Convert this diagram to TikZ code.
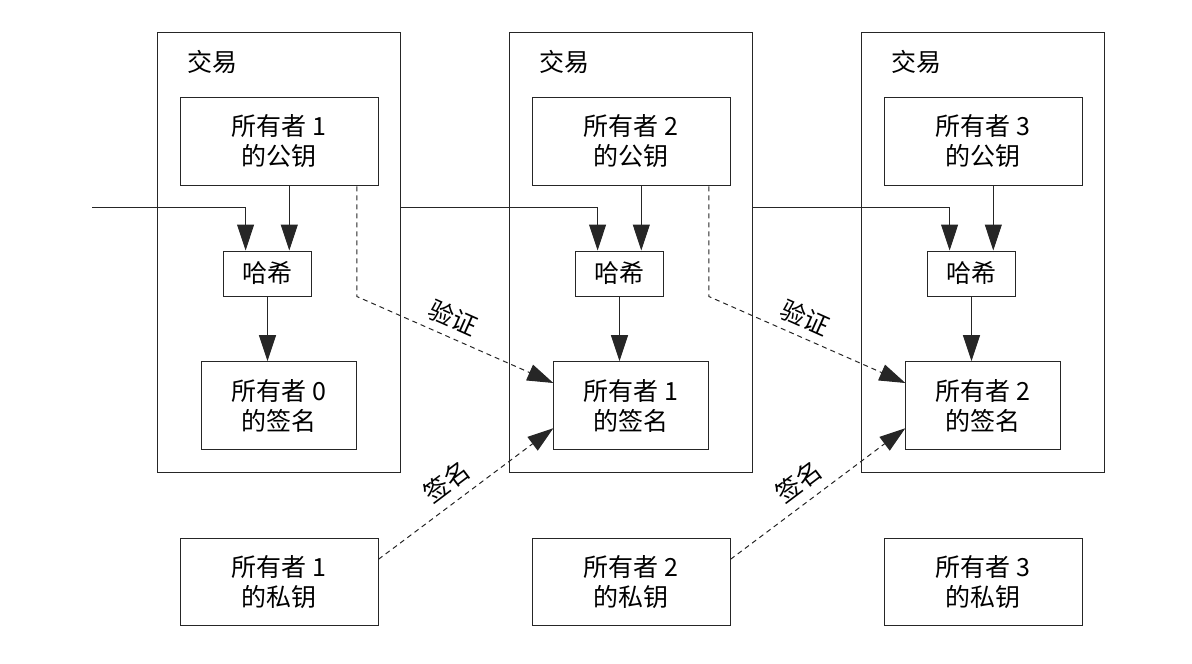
\documentclass[tikz,border=0pt]{standalone}
\usepackage{fontspec}
\setmainfont{Noto Sans CJK SC}
\usetikzlibrary{arrows.meta}
\begin{document}
\begin{tikzpicture}[x=1pt,y=-1pt,
  every node/.style={font=\fontsize{25}{30}\selectfont},
  frame/.style={draw=black!85, line width=1pt, inner sep=0pt},
  box/.style={draw=black!85, line width=1pt, align=center, inner sep=0pt},
  link/.style={draw=black!85, line width=1pt, -{Triangle[length=26pt,width=17pt]}},
  dlink/.style={link, dash pattern=on 5pt off 4pt},
  lbl/.style={inner sep=0pt}]
\useasboundingbox (0,0) rectangle (1192,664);
\foreach \n/\dx in {1/0,2/352,3/704}{
  \pgfmathtruncatemacro{\m}{\n-1}
  \node[frame, minimum width=242.5pt, minimum height=440pt] (tx\n) at (279+\dx,252) {};
  \node[lbl] (lt\n) at (212+\dx,62) {交易};
  \node[box, minimum width=198pt, minimum height=88.5pt] (pk\n) at (279+\dx,141.5) {所有者 \n\\的公钥};
  \node[box, minimum width=88.4pt, minimum height=45pt] (h\n) at (267.5+\dx,273.5) {哈希};
  \node[box, minimum width=154.3pt, minimum height=87.6pt] (sig\n) at (279+\dx,405.5) {所有者 \m\\的签名};
  \node[box, minimum width=198pt, minimum height=87.7pt] (sk\n) at (279+\dx,582) {所有者 \n\\的私钥};
  \coordinate (a\n) at ([xshift=10.3pt]pk\n.south);
  \coordinate (in\n) at ([xshift=-21.9pt]h\n.north);
  \coordinate (v\n) at ([xshift=-21.7pt]pk\n.south east);
  \draw[link] (a\n) -- (a\n |- h\n.north);
  \draw[link] (h\n.south) -- (h\n.south |- sig\n.north);
}
\coordinate (start) at (92,207.3);
\draw[link] (start) -| (in1);
\draw[link] (tx1.east |- start) -| (in2);
\draw[link] (tx2.east |- start) -| (in3);
% verify
\draw[dlink] (v1) -- (v1 |- h1.south) -- ([yshift=22.5pt]sig2.west);
\draw[dlink] (v2) -- (v2 |- h2.south) -- ([yshift=22.5pt]sig3.west);
\node[lbl, rotate=-24] (ver1) at (453,318) {验证};
\node[lbl, rotate=-24] (ver2) at (805,318) {验证};
% sign
\draw[dlink] ([yshift=22.7pt]sk1.east) -- ([yshift=-22.7pt]sig2.west);
\draw[dlink] ([yshift=22.7pt]sk2.east) -- ([yshift=-22.7pt]sig3.west);
\node[lbl, rotate=37] (sg1) at (447,482) {签名};
\node[lbl, rotate=37] (sg2) at (799,482) {签名};
\end{tikzpicture}
\end{document}
